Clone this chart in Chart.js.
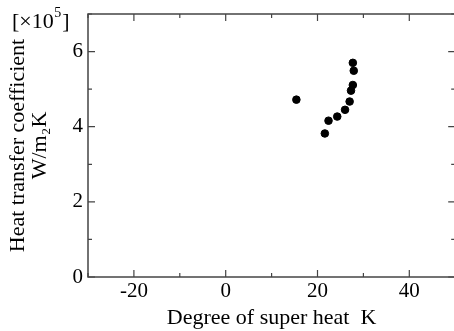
<!DOCTYPE html>
<html>
<head>
<meta charset="utf-8">
<script src="https://cdn.jsdelivr.net/npm/chart.js@4"></script>
<style>
  html, body { margin: 0; padding: 0; background: #fff; overflow: hidden; }
  #wrap { width: 454px; height: 331px; overflow: hidden; }
  #box { width: 460px; height: 331px; }
</style>
</head>
<body>
<div id="wrap"><div id="box"><canvas id="chart"></canvas></div></div>
<script>
// degree of super heat (K) and heat transfer coefficient (x10^5 W/m2K)
var superHeat = [15.4, 21.6, 22.4, 24.3, 26.0, 27.0, 27.3, 27.7, 27.9, 27.7];
var htc = [4.72, 3.82, 4.16, 4.27, 4.45, 4.67, 4.96, 5.11, 5.49, 5.70];
var xTicks = [-20, 0, 20, 40];
var yTicks = [0, 2, 4, 6];

var serif = "'Liberation Serif', 'DejaVu Serif', serif";
var axisColor = "#444";

var points = [];
for (var i = 0; i < superHeat.length; i++) {
    points.push({x: superHeat[i], y: htc[i]});
}

// frame + inward ticks + the [x10^5] unit
var framePlugin = {
    id: 'frame',
    afterDraw: function(chart) {
        var ctx = chart.ctx, a = chart.chartArea;
        var xs = chart.scales.x, ys = chart.scales.y;
        ctx.save();
        ctx.strokeStyle = axisColor;
        ctx.lineWidth = 1.5;
        ctx.strokeRect(a.left, a.top, a.right - a.left, a.bottom - a.top);
        ctx.lineWidth = 1.2;
        ctx.beginPath();
        for (var v = -30; v <= 50; v += 10) {
            var px = xs.getPixelForValue(v);
            var len = xTicks.indexOf(v) >= 0 ? 7 : 4;
            ctx.moveTo(px, a.bottom); ctx.lineTo(px, a.bottom - len);
            ctx.moveTo(px, a.top); ctx.lineTo(px, a.top + len);
        }
        for (var w = 0; w <= 7; w++) {
            var py = ys.getPixelForValue(w);
            var l2 = yTicks.indexOf(w) >= 0 ? 7 : 4;
            ctx.moveTo(a.left, py); ctx.lineTo(a.left + l2, py);
            ctx.moveTo(a.right, py); ctx.lineTo(a.right - l2, py);
        }
        ctx.stroke();

        ctx.fillStyle = '#000';
        ctx.textBaseline = 'alphabetic';
        ctx.textAlign = 'left';
        ctx.font = '22px ' + serif;
        var x0 = 12, base = 28;
        ctx.fillText('[\u00d710', x0, base);
        var w1 = ctx.measureText('[\u00d710').width;
        ctx.font = '14px ' + serif;
        ctx.fillText('5', x0 + w1 + 0.5, base - 11);
        var w2 = ctx.measureText('5').width;
        ctx.font = '22px ' + serif;
        ctx.fillText(']', x0 + w1 + w2 + 1.5, base);
        ctx.restore();
    }
};

var ctx = document.getElementById("chart");
var chart = new Chart(ctx, {
    type: 'scatter',
    data: {
        datasets: [{
            data: points,
            backgroundColor: '#000',
            borderColor: '#000',
            pointRadius: 3.8,
            pointHoverRadius: 3.8
        }]
    },
    options: {
        responsive: true,
        maintainAspectRatio: false,
        animation: false,
        events: [],
        layout: { padding: { top: 14, right: 3, left: 7, bottom: 0 } },
        plugins: { legend: { display: false }, tooltip: { enabled: false } },
        scales: {
            x: {
                type: 'linear',
                min: -30,
                max: 50,
                afterFit: function(s) {
                    s.height = 54;
                    s.paddingLeft = 0;
                    s.paddingRight = 0;
                },
                grid: { display: false, drawTicks: false, tickLength: 0 },
                border: { display: false },
                ticks: {
                    stepSize: 10,
                    autoSkip: false,
                    maxRotation: 0,
                    padding: 2,
                    color: '#000',
                    font: { family: serif, size: 21 },
                    callback: function(v) { return xTicks.indexOf(v) >= 0 ? v : ''; }
                },
                title: {
                    display: true,
                    text: 'Degree of super heat  K',
                    color: '#000',
                    padding: { top: 0, bottom: 0 },
                    font: { family: serif, size: 22 }
                }
            },
            y: {
                type: 'linear',
                min: 0,
                max: 7,
                afterFit: function(s) {
                    s.width = 81;
                    s.paddingTop = 0;
                    s.paddingBottom = 0;
                },
                grid: { display: false, drawTicks: false, tickLength: 0 },
                border: { display: false },
                ticks: {
                    stepSize: 1,
                    autoSkip: false,
                    padding: 5,
                    color: '#000',
                    font: { family: serif, size: 21 },
                    callback: function(v) { return yTicks.indexOf(v) >= 0 ? v : ''; }
                },
                title: {
                    display: true,
                    text: ['Heat transfer coefficient', 'W/m\u2082K'],
                    color: '#000',
                    padding: { top: 0, bottom: 0 },
                    font: { family: serif, size: 22, lineHeight: 1.0 }
                }
            }
        }
    },
    plugins: [framePlugin]
});
</script>
</body>
</html>
